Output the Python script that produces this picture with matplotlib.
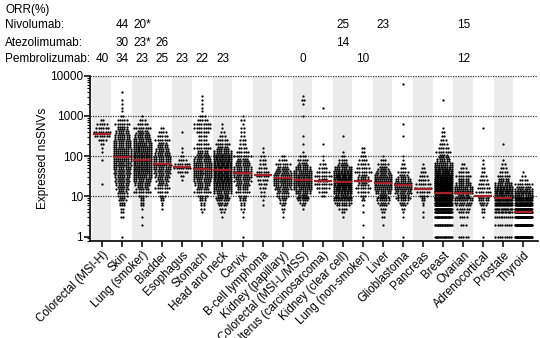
import numpy as np
import matplotlib
matplotlib.use("Agg")
import matplotlib.pyplot as plt
from matplotlib.ticker import FixedLocator, LogLocator, NullFormatter
from matplotlib.transforms import ScaledTranslation, blended_transform_factory

plt.rcParams['font.family'] = ['Liberation Sans', 'DejaVu Sans']

tumors = ["Colorectal (MSI-H)", "Skin", "Lung (smoker)", "Bladder", "Esophagus", "Stomach",
          "Head and neck", "Cervix", "B-cell lymphoma", "Kidney (papillary)",
          "Colorectal (MSI-L/MSS)", "Uterus (carcinosarcoma)", "Kidney (clear cell)",
          "Lung (non-smoker)", "Liver", "Glioblastoma", "Pancreas", "Breast", "Ovarian",
          "Adrenocortical", "Prostate", "Thyroid"]

median_nssnv = [355, 95, 80, 63, 53, 49, 46, 38, 35, 28, 26, 24.6, 23.3, 24, 21, 19,
                15, 12.4, 12, 10, 9, 4]

# response rates per drug, one slot per tumour type (None = not reported)
nivolumab_orr = [None, "44", "20*", None, None, None, None, None, None, None, None, None,
                 "25", None, "23", None, None, None, "15", None, None, None]
atezolizumab_orr = [None, "30", "23*", "26", None, None, None, None, None, None, None, None,
                    "14", None, None, None, None, None, None, None, None, None]
pembrolizumab_orr = ["40", "34", "23", "25", "23", "22", "23", None, None, None, "0", None,
                     None, "10", None, None, None, None, "12", None, None, None]

# nsSNV values (counts are tallied per value level below)
levels = [1, 2, 3, 4, 5, 6, 7, 8, 9, 10, 13, 16, 20, 25, 32, 40, 50, 63, 80, 100,
          130, 160, 200, 250, 320, 400, 500, 630, 800, 1000, 1300, 1600, 2000, 2500,
          3200, 4000, 5000, 6300]

counts_colorectal_msih = [0, 0, 0, 0, 0, 0, 0, 0, 0, 0, 0, 0, 1, 0, 0, 0, 0, 0, 1, 0,
                          1, 1, 2, 4, 7, 8, 6, 5, 2]
counts_skin = [1, 0, 2, 2, 2, 3, 3, 4, 3, 5, 9, 11, 12, 13, 14, 15, 16, 17, 18, 18,
               18, 17, 16, 15, 14, 12, 10, 7, 5, 2, 1, 1, 1, 1, 0, 1]
counts_lung_smoker = [0, 1, 1, 0, 1, 2, 2, 2, 2, 4, 8, 11, 14, 16, 18, 20, 21, 22, 22, 22,
                      21, 20, 18, 16, 14, 11, 8, 5, 3, 1]
counts_bladder = [0, 0, 0, 0, 1, 1, 1, 2, 2, 3, 5, 7, 9, 11, 13, 15, 16, 17, 16, 15,
                  13, 11, 9, 7, 5, 4, 2]
counts_esophagus = [0, 0, 0, 0, 0, 0, 0, 0, 0, 0, 0, 0, 0, 1, 2, 5, 8, 7, 4, 2,
                    1, 1, 0, 0, 0, 1]
counts_stomach = [0, 0, 0, 1, 2, 2, 2, 3, 3, 5, 8, 11, 14, 16, 18, 19, 19, 18, 16, 13,
                  10, 8, 6, 4, 4, 6, 8, 8, 5, 3, 1, 1, 1, 1, 1]
counts_head_neck = [0, 0, 1, 2, 3, 4, 5, 6, 7, 10, 16, 20, 24, 27, 29, 30, 30, 28, 25, 21,
                    16, 11, 7, 5, 3, 2, 1, 1]
counts_cervix = [1, 0, 1, 1, 2, 2, 2, 3, 3, 4, 7, 10, 13, 15, 17, 17, 16, 14, 11, 8,
                 6, 4, 3, 3, 2, 2, 2, 1, 2, 1]
counts_bcell = [0, 0, 0, 0, 0, 1, 0, 1, 0, 2, 2, 3, 4, 5, 6, 6, 4, 3, 3, 2, 1, 1]
counts_kidney_pap = [0, 0, 1, 1, 2, 2, 3, 3, 4, 6, 11, 15, 18, 19, 18, 15, 11, 7, 4, 2]
counts_colorectal_mss = [0, 0, 0, 0, 1, 2, 3, 5, 6, 9, 14, 18, 21, 22, 21, 18, 14, 9, 5, 3,
                         1, 0, 1, 0, 1, 0, 0, 0, 0, 1, 0, 0, 1, 2, 1]
counts_uterus = [0, 0, 0, 0, 0, 0, 0, 0, 0, 2, 4, 6, 8, 9, 8, 6, 4, 3, 1, 1,
                 0, 0, 1, 0, 0, 0, 0, 0, 0, 0, 0, 1]
counts_kidney_cc = [0, 0, 1, 2, 4, 6, 8, 10, 12, 15, 24, 30, 34, 34, 30, 24, 16, 9, 4, 2,
                    1, 0, 0, 0, 1]
counts_lung_nonsmoker = [1, 1, 0, 1, 0, 1, 0, 2, 1, 3, 5, 7, 9, 10, 9, 8, 6, 5, 4, 3, 2, 2]
counts_liver = [0, 1, 2, 2, 3, 4, 5, 6, 6, 9, 14, 18, 20, 20, 17, 13, 9, 5, 3, 1]
counts_glioblastoma = [1, 0, 1, 1, 2, 3, 4, 5, 7, 10, 15, 19, 18, 14, 9, 5, 3, 2, 1, 1,
                       0, 0, 0, 0, 1, 0, 0, 1, 0, 0, 0, 0, 0, 0, 0, 0, 0, 1]
counts_pancreas = [0, 0, 1, 1, 0, 1, 1, 2, 2, 4, 6, 8, 7, 5, 4, 3, 2, 1]
counts_breast = [20, 25, 30, 35, 38, 40, 40, 40, 40, 45, 80, 70, 60, 50, 40, 32, 25, 18, 12, 9,
                 7, 5, 4, 3, 2, 2, 1, 0, 0, 0, 0, 0, 0, 1]
counts_ovarian = [5, 3, 4, 5, 6, 7, 8, 9, 10, 11, 22, 18, 14, 10, 7, 5, 3, 2]
counts_adrenocortical = [1, 0, 1, 2, 2, 3, 4, 5, 5, 6, 7, 6, 5, 4, 3, 2, 2, 1, 1, 0,
                         0, 0, 0, 0, 0, 0, 1]
counts_prostate = [8, 8, 10, 13, 16, 18, 20, 20, 20, 20, 30, 24, 16, 10, 6, 4, 3, 2, 1, 0,
                   0, 0, 1]
counts_thyroid = [50, 55, 50, 45, 40, 35, 30, 25, 20, 18, 25, 15, 8, 4, 2, 1]

tumor_counts = [counts_colorectal_msih, counts_skin, counts_lung_smoker, counts_bladder,
                counts_esophagus, counts_stomach, counts_head_neck, counts_cervix,
                counts_bcell, counts_kidney_pap, counts_colorectal_mss, counts_uterus,
                counts_kidney_cc, counts_lung_nonsmoker, counts_liver, counts_glioblastoma,
                counts_pancreas, counts_breast, counts_ovarian, counts_adrenocortical,
                counts_prostate, counts_thyroid]

DOT_STEP = 0.115
HALF_WIDTH = 0.42
PER_ROW = 8
ROW_SHIFT_PX = {1: [0.0], 2: [-1.0, 1.0]}


def row_positions(n):
    if n <= PER_ROW:
        return (np.arange(n) - (n - 1) / 2) * DOT_STEP
    return np.linspace(-HALF_WIDTH, HALF_WIDTH, n)


# lay the dots out as a simple swarm: spread sideways at each value level,
# dense levels (above 10) split into two thin rows
swarm = {-1.0: ([], []), 0.0: ([], []), 1.0: ([], [])}
for i, row in enumerate(tumor_counts):
    for level, n in zip(levels, row):
        if n == 0:
            continue
        nrows = 1 if level < 10 else min(2, int(np.ceil(n / PER_ROW)))
        for shift, chunk in zip(ROW_SHIFT_PX[nrows], np.array_split(np.arange(n), nrows)):
            xs = i + row_positions(len(chunk))
            swarm[shift][0].extend(xs)
            swarm[shift][1].extend([level] * len(chunk))

fig = plt.figure(figsize=(5.4, 3.38), dpi=100)
ax = fig.add_axes([0.1667, 0.287, 0.8287, 0.489])

ax.set_yscale('log')
ax.set_xlim(-0.6, 21.7)
ax.set_ylim(0.78, 10000)

for i in range(0, len(tumors), 2):
    ax.axvspan(i - 0.49, i + 0.47, color='#ebebeb', lw=0, zorder=0)

for g in [10, 100, 1000, 10000]:
    ax.axhline(g, color='#333333', lw=0.9, ls=(0, (1, 1)), zorder=1)

for shift, (xs, ys) in swarm.items():
    tr = ax.transData + ScaledTranslation(0, shift / 100, fig.dpi_scale_trans)
    ax.scatter(xs, ys, s=2.6, c='black', linewidths=0, transform=tr, zorder=2)

for i, m in enumerate(median_nssnv):
    ax.plot([i - 0.45, i + 0.45], [m, m], color='#a81f27', lw=1.6,
            solid_capstyle='butt', zorder=3)

ax.spines['top'].set_visible(False)
ax.spines['right'].set_visible(False)
ax.spines['left'].set_linewidth(1.2)
ax.spines['bottom'].set_linewidth(1.2)

ax.yaxis.set_major_locator(FixedLocator([1, 10, 100, 1000, 10000]))
ax.set_yticklabels(["1", "10", "100", "1000", "10000"], fontsize=8.5)
ax.yaxis.set_minor_locator(LogLocator(base=10, subs=np.arange(2, 10)))
ax.yaxis.set_minor_formatter(NullFormatter())
ax.tick_params(axis='y', which='major', length=4, width=1.1, pad=1)
ax.tick_params(axis='y', which='minor', length=2, width=0.8)
ax.set_ylabel("Expressed nsSNVs", fontsize=8.5, labelpad=1)

ax.set_xticks(range(len(tumors)))
ax.set_xticklabels(tumors, rotation=45, ha='right', va='top', rotation_mode='anchor',
                   fontsize=8.3)
ax.tick_params(axis='x', length=4, width=1.1, pad=2)

# ORR header rows above the panel
top = blended_transform_factory(ax.transData, fig.transFigure)
fig.text(5 / 540, 1 - 10.5 / 338, "ORR(%)", fontsize=8.5, va='center')
for label, vals, ypx in [("Nivolumab:", nivolumab_orr, 25.5),
                         ("Atezolimumab:", atezolizumab_orr, 42.5),
                         ("Pembrolizumab:", pembrolizumab_orr, 58.5)]:
    yf = 1 - ypx / 338
    fig.text(5 / 540, yf, label, fontsize=8.5, va='center')
    for i, v in enumerate(vals):
        if v is not None:
            ax.text(i, yf, v, transform=top, fontsize=8.5, ha='center', va='center')

fig.savefig("out.png", dpi=100)
